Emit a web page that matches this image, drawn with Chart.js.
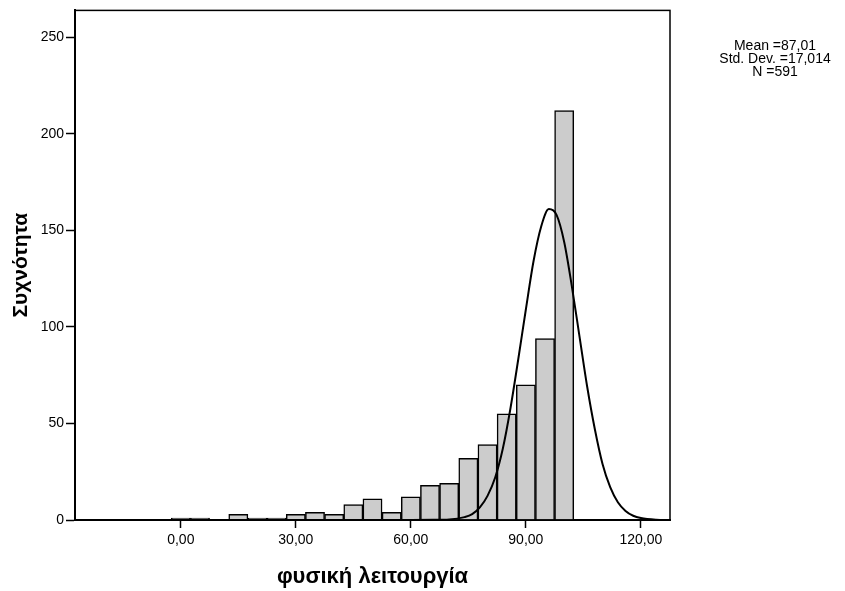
<!DOCTYPE html>
<html lang="el">
<head>
    <meta charset="UTF-8">
    <title>φυσική λειτουργία - ιστόγραμμα</title>
    <script src="https://cdn.jsdelivr.net/npm/chart.js"></script>
    <style>
        body {
            margin: 0;
            background: white;
        }
        #wrap {
            width: 845px;
            height: 591px;
        }
    </style>
</head>
<body>

<div id="wrap">
    <canvas id="histChart" width="845" height="591"></canvas>
</div>

<script>
    // histogram bins (centre of each 5-point bin) and counts
    const binCenters = [0, 5, 10, 15, 20, 25, 30, 35, 40, 45, 50, 55, 60, 65, 70, 75, 80, 85, 90, 95, 100];
    const binCounts  = [1, 1, 0, 3, 1, 1, 3, 4, 3, 8, 11, 4, 12, 18, 19, 32, 39, 55, 70, 94, 212];

    // normal curve, points
    const curveX = [-27.6, 60, 66, 70, 74, 76, 78, 80, 82, 84, 86, 88, 90, 92, 94, 96, 98, 100, 102, 104, 106, 108, 110, 112, 114, 116, 118, 120, 124, 127.6];
    const curveY = [0, 0, 0.1, 0.3, 1.5, 3, 6.5, 12.5, 22, 37, 58, 83, 109, 134, 152, 161, 158, 144, 121, 95, 69, 47, 29, 17, 9.2, 4.7, 2.2, 1, 0.15, 0];

    const xTicks = [0, 30, 60, 90, 120];
    const xTickLabels = ['0,00', '30,00', '60,00', '90,00', '120,00'];
    const yTicks = [0, 50, 100, 150, 200, 250];

    const statsLines = ['Mean =87,01', 'Std. Dev. =17,014', 'N =591'];

    // frame round the plot + stats text on the right
    const framePlugin = {
        id: 'frame',
        afterDraw(chart) {
            const ctx = chart.ctx;
            const a = chart.chartArea;
            ctx.save();
            ctx.strokeStyle = '#000';
            ctx.lineWidth = 1.5;
            ctx.strokeRect(a.left, a.top, a.right - a.left, a.bottom - a.top);
            ctx.fillStyle = '#000';
            ctx.font = '14px "Liberation Sans", Arial, sans-serif';
            ctx.textAlign = 'center';
            ctx.textBaseline = 'middle';
            statsLines.forEach((t, i) => ctx.fillText(t, 775, 46 + i * 13));
            ctx.restore();
        }
    };

    const fontFamily = '"Liberation Sans", Arial, sans-serif';

    new Chart(document.getElementById('histChart'), {
        type: 'bar',
        data: {
            datasets: [{
                type: 'line',
                data: curveX.map((x, i) => ({ x: x, y: curveY[i] })),
                borderColor: '#000',
                borderWidth: 2,
                pointRadius: 0,
                cubicInterpolationMode: 'monotone',
                fill: false,
                order: 0
            }, {
                type: 'bar',
                data: binCenters.map((x, i) => ({ x: x, y: binCounts[i] })),
                backgroundColor: '#cccccc',
                borderColor: '#000',
                borderWidth: 1.5,
                barPercentage: 1,
                categoryPercentage: 1,
                order: 1
            }]
        },
        options: {
            responsive: false,
            animation: false,
            layout: {
                padding: { top: 8, right: 175, left: 0, bottom: 0 }
            },
            plugins: {
                legend: { display: false },
                tooltip: { enabled: false }
            },
            scales: {
                x: {
                    type: 'linear',
                    min: -27.6,
                    max: 127.6,
                    offset: false,
                    afterBuildTicks: axis => { axis.ticks = xTicks.map(v => ({ value: v })); },
                    afterFit: axis => { axis.height = 71; },
                    grid: {
                        offset: false,
                        drawOnChartArea: false,
                        tickLength: 8,
                        tickColor: '#000',
                        tickWidth: 1.5
                    },
                    border: { color: '#000', width: 2 },
                    ticks: {
                        color: '#000',
                        padding: 4,
                        maxRotation: 0,
                        font: { family: fontFamily, size: 14 },
                        callback: v => xTickLabels[xTicks.indexOf(v)]
                    },
                    title: {
                        display: true,
                        text: 'φυσική λειτουργία',
                        color: '#000',
                        font: { family: fontFamily, size: 22, weight: 'bold' },
                        padding: { top: 0, bottom: 1 }
                    }
                },
                y: {
                    min: 0,
                    max: 263.9,
                    afterBuildTicks: axis => { axis.ticks = yTicks.map(v => ({ value: v })); },
                    afterFit: axis => { axis.width = 75; },
                    grid: {
                        drawOnChartArea: false,
                        tickLength: 9,
                        tickColor: '#000',
                        tickWidth: 1.5
                    },
                    border: { color: '#000', width: 2 },
                    ticks: {
                        color: '#000',
                        padding: 2,
                        font: { family: fontFamily, size: 14 }
                    },
                    title: {
                        display: true,
                        text: 'Συχνότητα',
                        color: '#000',
                        font: { family: fontFamily, size: 21, weight: 'bold' },
                        padding: { top: 9, bottom: 0 }
                    }
                }
            }
        },
        plugins: [framePlugin]
    });
</script>

</body>
</html>
